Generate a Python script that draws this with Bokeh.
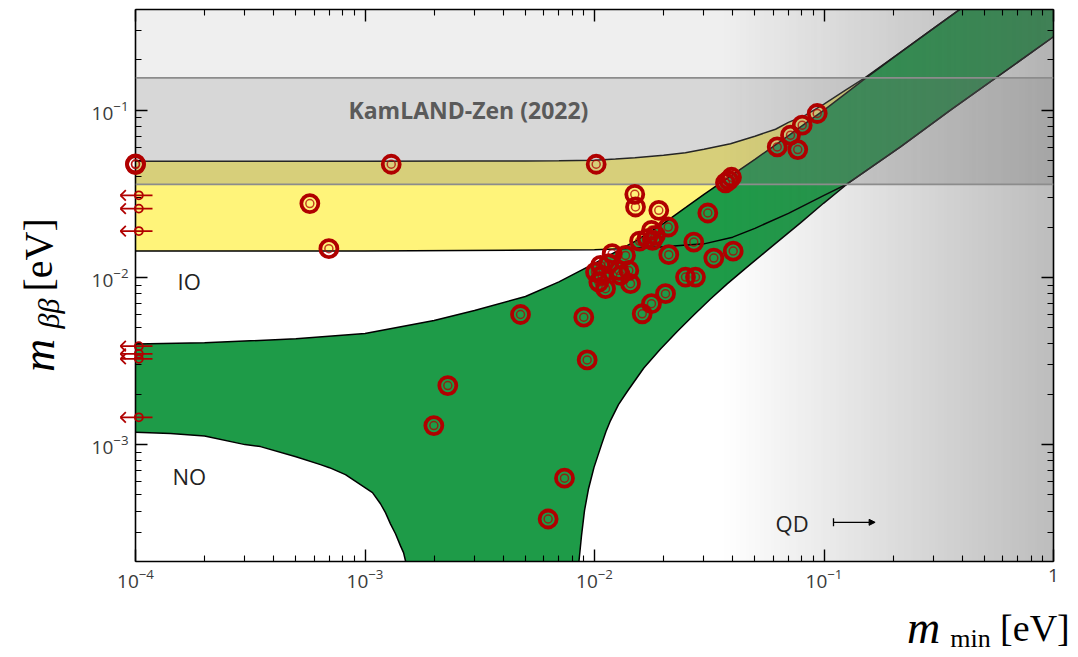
import numpy as np
from math import pi
from bokeh.plotting import figure
from bokeh.models import (Range1d, LogAxis, FixedTicker, Label, Arrow, NormalHead, TeeHead,
                          ColumnDataSource, CustomJSTickFormatter, Span)
from bokeh.core.properties import value
from bokeh.embed import file_html
from bokeh.resources import INLINE

# ---------------- data ----------------
x_min, x_max = 1e-4, 1.0
y_min, y_max = 2e-4, 0.4

# Inverted ordering (IO) band
io_top_x = [1e-4, 3e-4, 1e-3, 3e-3, 5e-3, 7e-3, 0.01, 0.01234, 0.015, 0.02, 0.0249, 0.03, 0.03914, 0.05, 0.0615,
            0.07, 0.0831, 0.1, 0.1241, 0.15, 0.2, 0.3, 0.4, 1.0]
io_top_y = [0.0495, 0.0495, 0.0495, 0.0496, 0.0497, 0.0499, 0.0502, 0.0510, 0.0519, 0.0538, 0.0557, 0.0584, 0.0630,
            0.0699, 0.0769, 0.0845, 0.0934, 0.1086, 0.1318, 0.1554, 0.2065, 0.308, 0.41, 1.03]
io_bot_x = [1e-4, 1e-3, 0.01, 0.015, 0.02, 0.03, 0.04, 0.05, 0.07, 0.1, 0.1262, 0.2154, 0.3557, 1.0]
io_bot_y = [0.01437, 0.01437, 0.01462, 0.01492, 0.01523, 0.01587, 0.01740, 0.01965, 0.02416, 0.03097, 0.0362, 0.06029,
            0.1, 0.2748]

# Normal ordering (NO) band
no_top_x = [1e-4, 2e-4, 5e-4, 1e-3, 2e-3, 3e-3, 5e-3, 7e-3, 0.01, 0.015, 0.02, 0.025, 0.03, 0.04, 0.05, 0.06, 0.07,
            0.085, 0.1, 0.125, 0.15, 0.2, 0.3, 0.4, 1.0]
no_top_y = [0.00400, 0.00406, 0.00429, 0.00462, 0.00553, 0.00634, 0.00769, 0.00940, 0.01213, 0.01643, 0.02105, 0.0262,
            0.03141, 0.0412, 0.05087, 0.0606, 0.07036, 0.0855, 0.1000, 0.1265, 0.1533, 0.2055, 0.308, 0.41, 1.03]
no_left_x = [1e-4, 1.421e-4, 2e-4, 3e-4, 3.505e-4, 5e-4, 6.4e-4, 7e-4, 8.22e-4, 1e-3, 1.078e-3, 1.168e-3, 1.228e-3,
             1.291e-3, 1.358e-3, 1.428e-3, 1.472e-3, 1.501e-3, 1.67e-3]
no_left_y = [0.001186, 0.001164, 0.001125, 0.001000, 0.000973, 0.000847, 0.000759, 0.000728, 0.000661, 0.000553,
             0.000516, 0.000443, 0.000392, 0.000336, 0.000293, 0.000248, 0.000226, 0.000202, 0.0001]
no_right_x = [8.40e-3, 8.474e-3, 8.561e-3, 8.778e-3, 9.045e-3, 9.42e-3, 9.95e-3, 0.01073, 0.01122, 0.01174, 0.01272,
              0.01389, 0.01640, 0.01939, 0.02293, 0.02708, 0.03201, 0.03786, 0.04550, 0.05655, 0.06661, 0.07899,
              0.09950, 0.1262, 0.2154, 0.3557, 1.0]
no_right_y = [0.0001, 0.000164, 0.000202, 0.000285, 0.000403, 0.000545, 0.000731, 0.001000, 0.001197, 0.001393,
              0.001736, 0.002077, 0.002871, 0.003730, 0.004750, 0.005962, 0.007432, 0.009144, 0.01132, 0.01451,
              0.01748, 0.02120, 0.02774, 0.0362, 0.06029, 0.1, 0.2748]

# KamLAND-Zen (2022) limit band
kz_lo, kz_hi = 0.036, 0.156
# QD / cosmology shading starts
qd_start = 0.035

# measured points
pts_x = [1.0e-4, 1.0e-4, 1.301e-3, 0.01017, 5.75e-4, 6.96e-4, 0.01498, 0.01509, 0.01906, 0.03117, 0.03847, 0.03722,
         0.03953, 0.02095, 0.01771, 0.01844, 0.01696, 0.01790, 0.01571, 0.02708, 0.02107, 0.03310, 0.04021, 0.01194,
         0.01365, 0.01062, 0.01010, 0.01154, 0.01080, 0.01044, 0.01117, 0.01276, 0.01411, 0.01298, 0.01435, 0.02492,
         0.02754, 0.02039, 0.01771, 0.01614, 0.00898, 0.00476, 0.00929, 0.002295, 0.001995, 0.00740, 0.00628, 0.06254,
         0.07145, 0.08035, 0.09342, 0.07685]
pts_y = [0.0473, 0.0478, 0.0475, 0.0475, 0.02762, 0.01485, 0.03141, 0.02636, 0.02518, 0.02427, 0.03808, 0.03680,
         0.03970, 0.02001, 0.01912, 0.01784, 0.01705, 0.01666, 0.01650, 0.01627, 0.01367, 0.01305, 0.01437, 0.01386,
         0.01354, 0.01180, 0.01076, 0.01208, 0.01028, 0.00937, 0.00856, 0.01101, 0.01101, 0.01028, 0.00917, 0.01004,
         0.01004, 0.00799, 0.00696, 0.00606, 0.00578, 0.00600, 0.00321, 0.002256, 0.001299, 0.000630, 0.000359, 0.06029,
         0.07085, 0.08132, 0.09555, 0.05815]

# upper limits on m_min (arrows at the left edge)
ul_x = [1.034e-4, 1.034e-4, 1.034e-4, 1.034e-4, 1.034e-4, 1.034e-4, 1.034e-4]
ul_y = [0.03097, 0.02579, 0.01893, 0.003878, 0.003492, 0.003259, 0.001457]

x_major = [1e-4, 1e-3, 1e-2, 1e-1, 1.0]
y_major = [1e-3, 1e-2, 1e-1]

# ---------------- figure ----------------
W, H = 1070, 654
FL, FR, FT, FB = 135, 1053, 9, 561   # frame edges in canvas pixels
p = figure(width=W, height=H, x_axis_type="log", y_axis_type="log",
           x_range=Range1d(x_min, x_max), y_range=Range1d(y_min, y_max),
           output_backend="svg", toolbar_location=None,
           min_border_left=FL, min_border_right=W - FR, min_border_top=FT, min_border_bottom=H - FB)
p.xgrid.visible = False
p.ygrid.visible = False
p.outline_line_color = None
p.background_fill_color = "white"
p.border_fill_color = "white"

def minors(lo_exp, hi_exp, hi):
    out = []
    for e in range(lo_exp, hi_exp + 1):
        for k in range(2, 10):
            v = k * 10.0 ** e
            if v <= hi:
                out.append(v)
    return out

xt = FixedTicker(ticks=x_major, minor_ticks=minors(-4, -1, 1.0))
yt = FixedTicker(ticks=y_major, minor_ticks=minors(-4, -1, 0.4))

def style_axis(ax, show_labels=True):
    ax.major_tick_in = 12
    ax.major_tick_out = 0
    ax.minor_tick_in = 6
    ax.minor_tick_out = 0
    ax.axis_line_width = 1.6
    ax.axis_line_color = "black"
    ax.major_tick_line_width = 1.4
    ax.minor_tick_line_width = 1.1
    ax.major_tick_line_color = "black"
    ax.minor_tick_line_color = "black"
    if show_labels:
        ax.major_label_text_font = "Open Sans"
        ax.major_label_text_font_size = "19px"
        ax.major_label_text_color = "#3a3a3a"
        ax.major_label_standoff = 7
    else:
        ax.formatter = CustomJSTickFormatter(code="return ''")
        ax.major_label_text_font_size = "0px"
        ax.major_label_standoff = 0

xa = p.xaxis[0]
xa.ticker = xt
style_axis(xa)
xa.major_label_overrides = {1: "1"}
ya = p.yaxis[0]
ya.ticker = yt
style_axis(ya)

top_ax = LogAxis(ticker=xt)
style_axis(top_ax, False)
p.add_layout(top_ax, "above")
right_ax = LogAxis(ticker=yt)
style_axis(right_ax, False)
p.add_layout(right_ax, "right")

# ---------------- bands ----------------
GREEN = "#1e9b48"
YELLOW = "#fff47a"

io_px = io_top_x + io_bot_x[::-1]
io_py = io_top_y + io_bot_y[::-1]
p.patch(io_px, io_py, fill_color=YELLOW, line_color=None)

no_px = no_top_x + no_right_x[::-1] + no_left_x[::-1]
no_py = no_top_y + no_right_y[::-1] + no_left_y[::-1]
p.patch(no_px, no_py, fill_color=GREEN, line_color=None)

for xs, ys in [(io_top_x, io_top_y), (io_bot_x, io_bot_y), (no_top_x, no_top_y),
               (no_left_x, no_left_y), (no_right_x, no_right_y)]:
    p.line(xs, ys, line_color="black", line_width=1.5)

# ---------------- exclusion shading ----------------
p.quad(left=[x_min], right=[x_max], bottom=[kz_lo], top=[kz_hi],
       fill_color="#7a7a7a", fill_alpha=0.30, line_color=None)
p.quad(left=[x_min], right=[x_max], bottom=[kz_hi], top=[y_max],
       fill_color="#7a7a7a", fill_alpha=0.12, line_color=None)

N = 256
img = np.zeros((1, N), dtype=np.uint32)
view = img.view(dtype=np.uint8).reshape((1, N, 4))
view[0, :, 0] = 96
view[0, :, 1] = 96
view[0, :, 2] = 96
view[0, :, 3] = (np.linspace(0.0, 0.42, N) * 255).astype(np.uint8)
p.image_rgba(image=[img], x=qd_start, y=y_min, dw=x_max - qd_start, dh=y_max - y_min)

for loc in (kz_lo, kz_hi):
    p.add_layout(Span(location=loc, dimension="width", line_color="#8c8c8c", line_width=1.6))

# ---------------- points ----------------
RED = "#b00000"
r1 = p.scatter(pts_x, pts_y, marker="circle", size=17, fill_color=None, line_color=RED, line_width=3.8)
r2 = p.scatter(pts_x, pts_y, marker="circle", size=8, fill_color=None, line_color=RED, line_alpha=0.75, line_width=1.5)
r1.level = "overlay"
r2.level = "overlay"

# upper-limit arrows: shaft, two barbs of an open head, small circle
fx_r, fx_l = 1.147, 0.832          # shaft ends relative to the point (screen ~ +17 / -18 px)
bx, by = 1.055, 1.075               # barb size factors (~5 px)
ul_src = ColumnDataSource(dict(
    x=ul_x, y=ul_y,
    xr=[v * fx_r for v in ul_x],
    xl=[v * fx_l for v in ul_x],
    xb=[v * fx_l * bx for v in ul_x],
    yu=[v * by for v in ul_y],
    yd=[v / by for v in ul_y]))
for args in [("xr", "y", "xl", "y"), ("xl", "y", "xb", "yu"), ("xl", "y", "xb", "yd")]:
    rs = p.segment(x0=args[0], y0=args[1], x1=args[2], y1=args[3], source=ul_src,
                   line_color=RED, line_width=1.8)
    rs.level = "overlay"
r3 = p.scatter("x", "y", source=ul_src, marker="circle", size=8, fill_color=None, line_color=RED, line_width=1.8)
r3.level = "overlay"

# ---------------- texts ----------------
def dlab(text, x, y, bold=False, color="#222222", size=22):
    lb = Label(x=x, y=y, text=text, text_font="Open Sans", text_font_style="bold" if bold else "normal",
               text_font_size=f"{size}px", text_color=color, text_baseline="middle")
    p.add_layout(lb)

dlab("KamLAND-Zen (2022)", 8.47e-4, 0.1, True, "#5a5a5a", 23)
dlab("IO", 1.524e-4, 0.00946)
dlab("NO", 1.45e-4, 6.52e-4)
dlab("QD", 0.0615, 3.39e-4)
p.add_layout(Arrow(x_start=0.110, y_start=3.43e-4, x_end=0.167, y_end=3.43e-4, line_color="black", line_width=1.3,
                   start=TeeHead(size=8, line_width=1.3),
                   end=NormalHead(size=6, fill_color="black", line_color="black")))

# axis titles drawn as text glyphs (overlay level so they are not clipped to the frame)
def tlab(texts, xs, ys, size, style, angle):
    r = p.text(x=xs, y=ys, text=texts, text_font=value("Liberation Serif"), text_font_style=style,
               text_font_size=value(f"{size}px"), text_color="black", angle=angle,
               text_align="center", text_baseline="middle")
    r.level = "overlay"

# y axis title: m_{ββ} [eV]
tlab(["m"], [3.778e-5], [3.411e-3], 46, "italic", pi / 2)
tlab(["ββ"], [4.177e-5], [6.086e-3], 30, "italic", pi / 2)
tlab(["[eV]"], [3.797e-5], [0.01364], 40, "normal", pi / 2)
# x axis title: m_min [eV]
tlab(["m"], [0.2714], [8.05e-5], 46, "italic", 0.0)
tlab(["min"], [0.4347], [6.93e-5], 26, "normal", 0.0)
tlab(["[eV]"], [0.8300], [7.95e-5], 38, "normal", 0.0)

open("out.html", "w").write(file_html(p, INLINE))
